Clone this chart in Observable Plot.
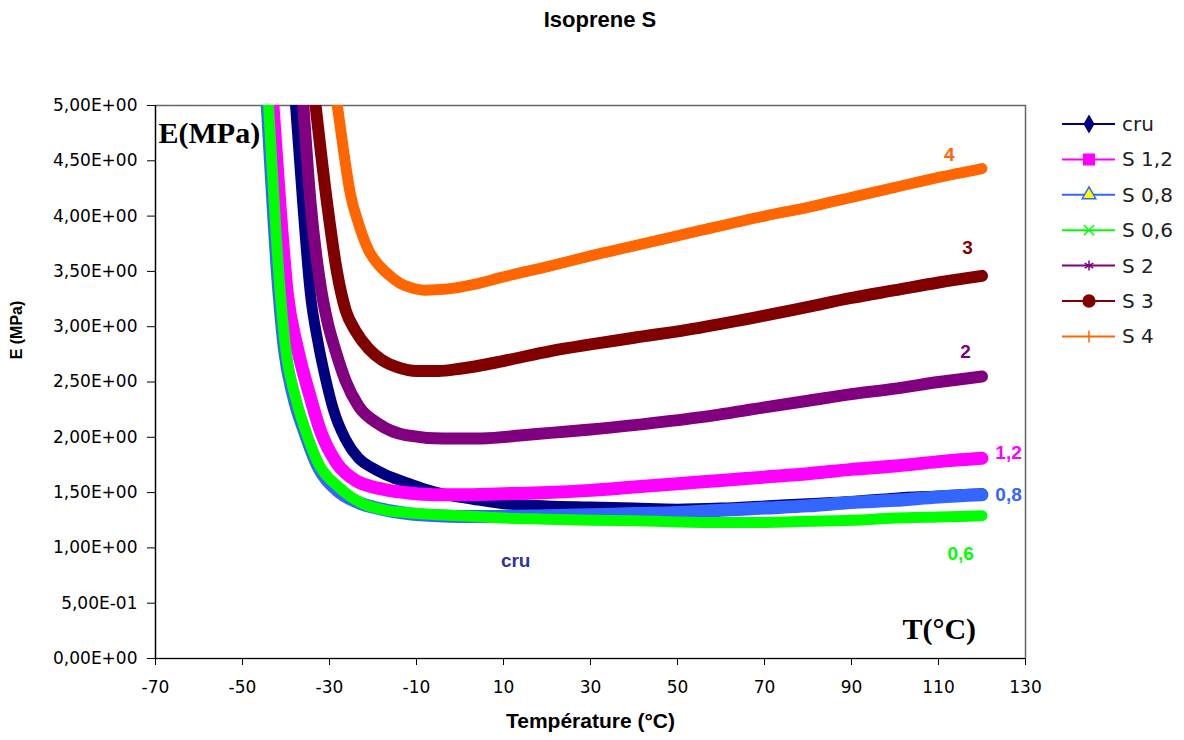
<!DOCTYPE html>
<html><head><meta charset="utf-8">
<script src="https://cdn.jsdelivr.net/npm/d3@7"></script>
<script src="https://cdn.jsdelivr.net/npm/@observablehq/plot@0.6"></script>
<style>
body{margin:0;background:#fff;}
#wrap{position:relative;width:1184px;height:740px;overflow:hidden;}
#title{height:40px;font:bold 22px "Liberation Sans",Arial,sans-serif;text-align:center;padding-left:16px;box-sizing:border-box;line-height:40px;color:#000;}
#legend{position:absolute;left:1055px;top:100px;}
</style></head><body>
<div id="wrap"><div id="title">Isoprene S</div><div id="chart"></div><div id="legend"></div></div>
<script>
// ---- data ----
const seriesNames = ["cru", "S 1,2", "S 0,8", "S 0,6", "S 2", "S 3", "S 4"];
const seriesColors = ["#000080", "#ff00ff", "#3366ff", "#00ff00", "#800080", "#800000", "#ff6600"];

const cruT = [-37.8, -36.2, -34.4, -32.5, -30.9, -29.1, -26.3, -23.3, -20, -17, -13, -8, -3, 3, 10, 20, 30, 40, 50, 60, 70, 80, 90, 100, 110, 120];
const cruE = [5.0, 4.14, 3.3, 2.83, 2.53, 2.25, 1.98, 1.81, 1.72, 1.66, 1.60, 1.53, 1.48, 1.44, 1.40, 1.38, 1.37, 1.36, 1.35, 1.36, 1.38, 1.40, 1.42, 1.45, 1.47, 1.49];

const s12T = [-43, -41.4, -39.7, -37.4, -34.4, -32.1, -28.2, -24, -20, -16.4, -10, -4.9, 0, 10, 20, 30, 40, 50, 60, 70, 80, 90, 100, 110, 120];
const s12E = [5.0, 4.1, 3.3, 2.81, 2.36, 2.06, 1.76, 1.61, 1.55, 1.52, 1.49, 1.48, 1.48, 1.49, 1.50, 1.52, 1.55, 1.58, 1.61, 1.64, 1.67, 1.71, 1.74, 1.78, 1.81];

const s08T = [-44.3, -41.6, -40.4, -38.2, -35.8, -32.8, -28.2, -24, -18, -12, -5, 0, 10, 20, 30, 40, 50, 60, 70, 80, 90, 100, 110, 120];
const s08E = [5.0, 3.3, 2.81, 2.36, 2.06, 1.75, 1.52, 1.42, 1.35, 1.31, 1.29, 1.285, 1.285, 1.29, 1.30, 1.31, 1.32, 1.34, 1.36, 1.38, 1.41, 1.43, 1.46, 1.48];

const s06T = [-44, -41.3, -40.1, -37.8, -35.5, -32.5, -27.9, -22.4, -17, -12.5, -5, 0, 10, 20, 30, 40, 50, 60, 70, 80, 90, 100, 110, 120];
const s06E = [5.0, 3.3, 2.81, 2.36, 2.06, 1.76, 1.55, 1.40, 1.34, 1.32, 1.30, 1.29, 1.27, 1.26, 1.25, 1.245, 1.235, 1.23, 1.23, 1.24, 1.25, 1.27, 1.28, 1.29];

const s2T = [-36, -34.4, -32.1, -30.5, -28.6, -26.3, -23.3, -18.7, -12.5, -4, 5, 15, 20.8, 30, 40, 55, 70, 80, 90, 100, 110, 120];
const s2E = [5.0, 4.14, 3.38, 3.05, 2.78, 2.51, 2.28, 2.12, 2.02, 1.99, 1.99, 2.02, 2.04, 2.07, 2.11, 2.18, 2.27, 2.33, 2.39, 2.44, 2.50, 2.55];

const s3T = [-33.2, -30.5, -28.3, -26.3, -24, -21, -18, -14.1, -10, -5, 0, 10, 20.8, 30, 40, 55, 70, 80, 90, 100, 110, 120];
const s3E = [5.0, 4.1, 3.5, 3.15, 2.96, 2.80, 2.70, 2.63, 2.60, 2.60, 2.62, 2.69, 2.78, 2.84, 2.90, 2.99, 3.10, 3.18, 3.26, 3.33, 3.40, 3.46];

const s4T = [-28.2, -26.8, -25.2, -23.3, -21, -18.5, -16.4, -13.7, -11, -8, -3, 3, 10, 20.8, 30, 40, 55.3, 70, 80, 90, 100, 110, 120];
const s4E = [5.0, 4.6, 4.2, 3.93, 3.69, 3.55, 3.47, 3.39, 3.35, 3.33, 3.34, 3.38, 3.45, 3.55, 3.64, 3.73, 3.87, 4.00, 4.08, 4.17, 4.26, 4.35, 4.43];

const seriesT = [cruT, s12T, s08T, s06T, s2T, s3T, s4T];
const seriesE = [cruE, s12E, s08E, s06E, s2E, s3E, s4E];

const xTicks = [-70, -50, -30, -10, 10, 30, 50, 70, 90, 110, 130];
const yTicks = [0, 0.5, 1, 1.5, 2, 2.5, 3, 3.5, 4, 4.5, 5];

const labelText = ["4", "3", "2", "1,2", "0,8", "0,6", "cru"];
const labelT = [112.5, 116.7, 116.2, 126.1, 126.1, 115.1, 12.8];
const labelE = [4.55, 3.71, 2.77, 1.86, 1.48, 0.95, 0.88];
const labelColors = ["#ff6600", "#800000", "#800080", "#ff00ff", "#3366ff", "#00ff00", "#333399"];

// ---- build ----
const rows = [];
seriesNames.forEach((s, i) => seriesT[i].forEach((t, j) => rows.push({series: s, T: t, E: seriesE[i][j]})));
const widths = [11, 13, 13, 11, 12, 12, 11];

function fmtE(v) {
  if (v === 0) return "0,00E+00";
  const e = Math.floor(Math.log10(v) + 1e-9);
  const m = v / Math.pow(10, e);
  return m.toFixed(2).replace(".", ",") + "E" + (e < 0 ? "-" : "+") + String(Math.abs(e)).padStart(2, "0");
}

const labels = labelText.map((t, i) => ({t, T: labelT[i], E: labelE[i], c: labelColors[i]}));

const marks = [
  Plot.frame({stroke: "#666", strokeWidth: 1.5}),
];
seriesNames.forEach((s, i) => {
  marks.push(Plot.line(rows.filter(r => r.series === s), {
    x: "T", y: "E", stroke: seriesColors[i], strokeWidth: widths[i], curve: "monotone-x", clip: true
  }));
});
marks.push(
  Plot.ruleX([-70], {stroke: "#000", strokeWidth: 1.2}),
  Plot.ruleY([0], {stroke: "#000", strokeWidth: 1.2}),
  Plot.axisY({ticks: yTicks, tickFormat: fmtE, tickSize: 8, tickPadding: 10, label: null, fontSize: 17}),
  Plot.axisX({ticks: xTicks, tickFormat: d => String(d), tickSize: 7, tickPadding: 15, label: null, fontSize: 17}),
  Plot.text(labels, {x: "T", y: "E", text: "t", fill: "c", fontSize: 19, fontWeight: "bold", fontFamily: "Liberation Sans, Arial, sans-serif"}),
  Plot.text(["E(MPa)"], {x: () => -69.3, y: () => 4.66, text: d => d, textAnchor: "start", lineAnchor: "bottom", fontSize: 30, fontWeight: "bold", fontFamily: "Liberation Serif, Times New Roman, serif"}),
  Plot.text(["T(°C)"], {x: () => 101.7, y: () => 0.18, text: d => d, textAnchor: "start", lineAnchor: "bottom", fontSize: 30, fontWeight: "bold", fontFamily: "Liberation Serif, Times New Roman, serif"}),
  Plot.text(["E (MPa)"], {x: () => -70, y: () => 2.97, text: d => d, rotate: -90, dx: -139, fontSize: 16, fontWeight: "bold", fontFamily: "Liberation Sans, Arial, sans-serif"}),
  Plot.text(["Température (°C)"], {frameAnchor: "bottom", text: d => d, dy: 69, fontSize: 21, fontWeight: "bold", fontFamily: "Liberation Sans, Arial, sans-serif"})
);

const chart = Plot.plot({
  width: 1184, height: 700,
  marginTop: 65, marginBottom: 82, marginLeft: 155, marginRight: 159,
  x: {domain: [-70, 130]},
  y: {domain: [0, 5]},
  style: {fontFamily: "DejaVu Sans, sans-serif", fontSize: "17px", color: "#000", background: "#fff", overflow: "visible"},
  marks
});
document.getElementById("chart").appendChild(chart);

// ---- legend ----
const lg = d3.select("#legend").append("svg").attr("width", 129).attr("height", 260)
  .style("font-family", "DejaVu Sans, sans-serif").style("font-size", "20px");
const symDefs = [
  {type: d3.symbolDiamond, size: 75, fill: "#000080", stroke: "#000080"},
  {type: d3.symbolSquare, size: 110, fill: "#ff00ff", stroke: "#ff00ff"},
  {type: d3.symbolTriangle, size: 80, fill: "#ffff00", stroke: "#3366ff"},
  {type: d3.symbolX, size: 70, fill: "none", stroke: "#00ff00"},
  {type: d3.symbolAsterisk, size: 70, fill: "none", stroke: "#800080"},
  {type: d3.symbolCircle, size: 110, fill: "#800000", stroke: "#800000"},
  {type: null}
];
seriesNames.forEach((s, i) => {
  const y = 24 + i * 35.4;
  const g = lg.append("g").attr("transform", `translate(0,${y})`);
  g.append("line").attr("x1", 7).attr("x2", 60).attr("y1", 0).attr("y2", 0).attr("stroke", seriesColors[i]).attr("stroke-width", 2);
  const sd = symDefs[i];
  if (sd.type) {
    g.append("path").attr("transform", "translate(34,0)").attr("d", d3.symbol(sd.type, sd.size)())
      .attr("fill", sd.fill).attr("stroke", sd.stroke).attr("stroke-width", 1.5);
  } else {
    g.append("line").attr("x1", 34).attr("x2", 34).attr("y1", -6).attr("y2", 6).attr("stroke", seriesColors[i]).attr("stroke-width", 1.5);
  }
  g.append("text").attr("x", 67).attr("y", 0).attr("dy", "0.35em").attr("fill", "#222").text(s);
});
</script>
</body></html>
